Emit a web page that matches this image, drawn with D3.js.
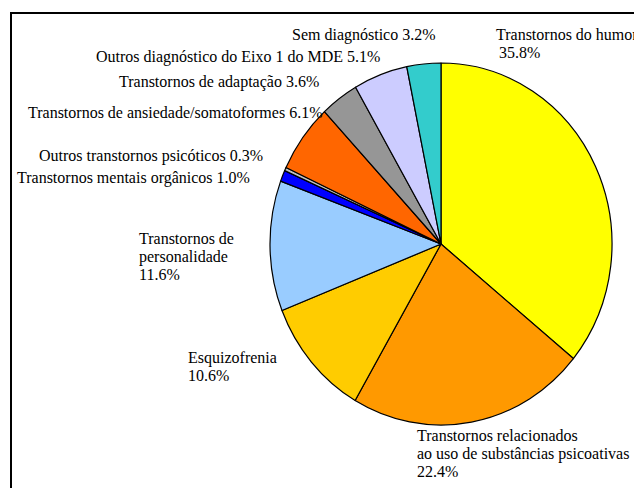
<!DOCTYPE html>
<html>
<head>
<meta charset="utf-8">
<script src="https://cdn.jsdelivr.net/npm/d3@7"></script>
<style>
    body { margin: 0; background: #fff; }
</style>
</head>
<body>
<div id="chart"></div>
<script>
// categories, clockwise from 12 o'clock
var categories = [
    'Transtornos do humor',
    'Transtornos relacionados ao uso de substâncias psicoativas',
    'Esquizofrenia',
    'Transtornos de personalidade',
    'Transtornos mentais orgânicos',
    'Outros transtornos psicóticos',
    'Transtornos de ansiedade/somatoformes',
    'Transtornos de adaptação',
    'Outros diagnóstico do Eixo 1 do MDE',
    'Sem diagnóstico'
];
var percents = [35.8, 22.4, 10.6, 11.6, 1.0, 0.3, 6.1, 3.6, 5.1, 3.2];
var colors = ['#ffff00', '#ff9900', '#ffcc00', '#99ccff', '#0000ff',
              '#c0c0c0', '#ff6600', '#969696', '#ccccff', '#33cccc'];

// label text lines (as printed on the chart)
var labelLines = [
    ['Transtornos do humor', '35.8%'],
    ['Transtornos relacionados', 'ao uso de substâncias psicoativas', '22.4%'],
    ['Esquizofrenia', '10.6%'],
    ['Transtornos de', 'personalidade', '11.6%'],
    ['Transtornos mentais orgânicos 1.0%'],
    ['Outros transtornos psicóticos 0.3%'],
    ['Transtornos de ansiedade/somatoformes 6.1%'],
    ['Transtornos de adaptação 3.6%'],
    ['Outros diagnóstico do Eixo 1 do MDE 5.1%'],
    ['Sem diagnóstico 3.2%']
];

// layout: where each label block starts (first baseline)
var labelPos = [
    {x: 496, y: 40, dx: 3},
    {x: 417, y: 441},
    {x: 188, y: 363},
    {x: 139, y: 244},
    {x: 17,  y: 183},
    {x: 39,  y: 161},
    {x: 28,  y: 118},
    {x: 119, y: 87},
    {x: 96,  y: 62},
    {x: 292, y: 40}
];
var LINE_H = 17.8;

var WIDTH = 634, HEIGHT = 488;
var CX = 441, CY = 244, RX = 171, RY = 181;
var FONT = '"Liberation Serif", "Times New Roman", serif';

var svg = d3.select('#chart').append('svg')
    .attr('width', WIDTH)
    .attr('height', HEIGHT);

// plot frame (right and bottom edges fall outside the picture)
svg.append('rect')
    .attr('x', 11).attr('y', 13)
    .attr('width', 700).attr('height', 600)
    .attr('fill', 'none')
    .attr('stroke', '#000')
    .attr('stroke-width', 2);

var pie = d3.pie().sort(null).value(function(d) { return d; });
var arc = d3.arc().innerRadius(0).outerRadius(RX);

var g = svg.append('g')
    .attr('transform', 'translate(' + CX + ',' + CY + ') scale(1,' + (RY / RX) + ')');

g.selectAll('path')
    .data(pie(percents))
    .enter().append('path')
    .attr('d', arc)
    .attr('fill', function(d, i) { return colors[i]; })
    .attr('stroke', '#000')
    .attr('stroke-width', 1.2)
    .attr('vector-effect', 'non-scaling-stroke')
    .attr('stroke-linejoin', 'round');

var labels = svg.append('g')
    .attr('font-family', FONT)
    .attr('font-size', 16)
    .attr('fill', '#000');
labelLines.forEach(function(lines, i) {
    var p = labelPos[i];
    var t = labels.append('text')
        .attr('x', p.x)
        .attr('y', p.y);
    lines.forEach(function(line, j) {
        t.append('tspan')
            .attr('x', p.x + (j > 0 && p.dx ? p.dx : 0))
            .attr('y', p.y + j * LINE_H)
            .text(line);
    });
});
</script>
</body>
</html>
